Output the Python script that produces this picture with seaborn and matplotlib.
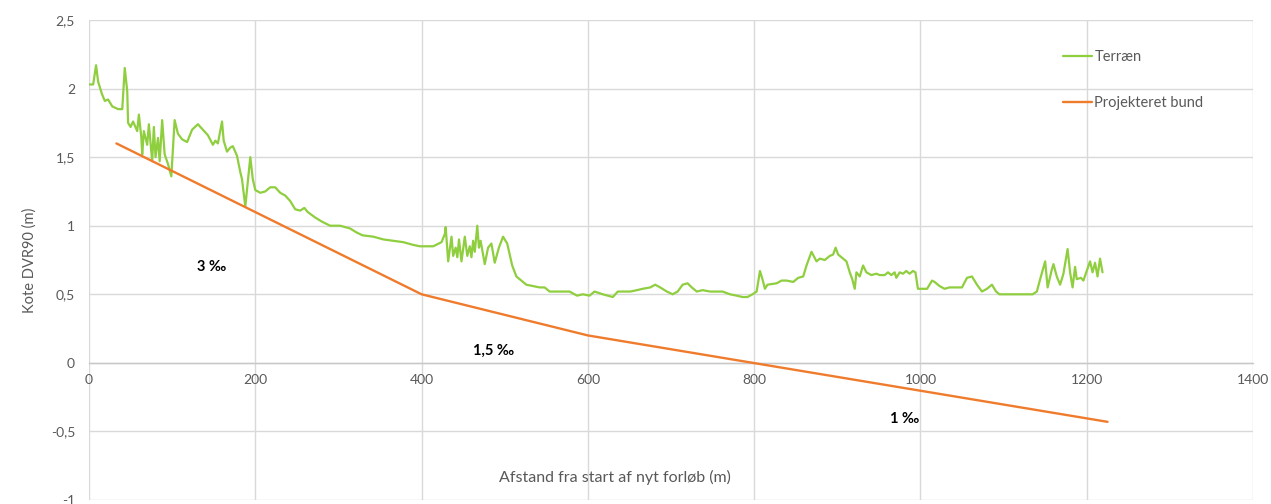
import matplotlib
matplotlib.use("Agg")
import matplotlib.pyplot as plt
from matplotlib.ticker import FuncFormatter, MultipleLocator
import seaborn as sns
import pandas as pd

# Terrain profile along the new course (distance m, level DVR90 m)
terrain_x = [0, 5, 8.5, 11, 15.6, 19, 23, 28, 35, 40, 43, 46, 47, 50, 53, 58, 60, 63, 64, 66,
             70, 72, 76, 78, 80, 83, 85, 88, 91, 95, 99, 103, 107, 112, 118, 124, 131, 137, 143, 149,
             152, 155, 160, 162, 166, 170, 173, 178, 182, 184, 188, 191, 194, 197, 200, 206, 212, 218, 224, 230,
             236, 242, 248, 254, 259, 263, 272, 280, 290, 302, 314, 322, 329, 342, 354, 366, 378, 390, 398, 414,
             424, 428, 429, 432, 436, 438, 441, 443, 445, 448, 452, 455, 458, 460, 462, 464, 467, 469, 471, 476,
             480, 484, 488, 493, 498, 503, 509, 514, 522, 526, 534, 542, 548, 554, 563, 570, 578, 587, 594, 602,
             608, 618, 624, 630, 636, 642, 651, 659, 666, 675, 681, 687, 695, 702, 708, 714, 720, 725, 731, 738,
             747, 755, 762, 771, 779, 786, 792, 798, 803, 807, 810, 813, 816, 827, 833, 839, 847, 853, 859, 863,
             869, 875, 879, 885, 891, 895, 898, 901, 905, 911, 915, 918, 921, 923, 927, 931, 935, 941, 947, 951,
             957, 961, 965, 969, 971, 975, 979, 983, 987, 991, 994, 997, 1001, 1008, 1014, 1017, 1023, 1029, 1035, 1044,
             1050, 1056, 1062, 1068, 1074, 1080, 1086, 1091, 1095, 1111, 1120, 1135, 1140, 1144, 1150, 1153, 1158, 1160, 1164, 1168,
             1172, 1177, 1180, 1183, 1186, 1188, 1193, 1196, 1200, 1204, 1207, 1210, 1213, 1216, 1219]
terrain_y = [2.03, 2.03, 2.17, 2.05, 1.96, 1.91, 1.92, 1.87, 1.85, 1.85, 2.15, 1.98, 1.75, 1.72, 1.76, 1.69, 1.81, 1.64, 1.52, 1.69,
             1.59, 1.74, 1.47, 1.72, 1.50, 1.64, 1.47, 1.77, 1.52, 1.45, 1.36, 1.77, 1.67, 1.63, 1.61, 1.70, 1.74, 1.70, 1.66, 1.59,
             1.62, 1.60, 1.76, 1.62, 1.54, 1.57, 1.58, 1.51, 1.39, 1.34, 1.14, 1.32, 1.50, 1.34, 1.26, 1.24, 1.25, 1.28, 1.28, 1.24,
             1.22, 1.18, 1.12, 1.11, 1.13, 1.10, 1.06, 1.03, 1.00, 1.00, 0.98, 0.95, 0.93, 0.92, 0.90, 0.89, 0.88, 0.86, 0.85, 0.85,
             0.88, 0.94, 0.99, 0.74, 0.92, 0.78, 0.84, 0.77, 0.90, 0.74, 0.92, 0.78, 0.85, 0.77, 0.89, 0.81, 1.00, 0.84, 0.89, 0.72,
             0.84, 0.87, 0.73, 0.84, 0.92, 0.87, 0.71, 0.63, 0.59, 0.57, 0.56, 0.55, 0.55, 0.52, 0.52, 0.52, 0.52, 0.49, 0.50, 0.49,
             0.52, 0.50, 0.49, 0.48, 0.52, 0.52, 0.52, 0.53, 0.54, 0.55, 0.57, 0.55, 0.52, 0.50, 0.52, 0.57, 0.58, 0.55, 0.52, 0.53,
             0.52, 0.52, 0.52, 0.50, 0.49, 0.48, 0.48, 0.50, 0.52, 0.67, 0.61, 0.54, 0.57, 0.58, 0.60, 0.60, 0.59, 0.62, 0.63, 0.71,
             0.81, 0.74, 0.76, 0.75, 0.78, 0.79, 0.84, 0.79, 0.77, 0.74, 0.66, 0.61, 0.54, 0.66, 0.63, 0.71, 0.66, 0.64, 0.65, 0.64,
             0.64, 0.66, 0.64, 0.66, 0.62, 0.66, 0.65, 0.67, 0.65, 0.67, 0.66, 0.54, 0.54, 0.54, 0.60, 0.59, 0.56, 0.54, 0.55, 0.55,
             0.55, 0.62, 0.63, 0.57, 0.52, 0.54, 0.57, 0.52, 0.50, 0.50, 0.50, 0.50, 0.52, 0.61, 0.74, 0.55, 0.68, 0.72, 0.63, 0.57,
             0.65, 0.83, 0.66, 0.55, 0.70, 0.61, 0.62, 0.60, 0.67, 0.74, 0.66, 0.73, 0.63, 0.76, 0.66]

# Designed channel bottom (break points)
bund_x = [33, 400, 600, 1225]
bund_y = [1.60, 0.50, 0.20, -0.43]

# Gradient labels: text, x, y
slope_labels = ["3 \u2030", "1,5 \u2030", "1 \u2030"]
slope_x = [148, 487, 981]
slope_y = [0.70, 0.09, -0.41]

x_ticks = [0, 200, 400, 600, 800, 1000, 1200, 1400]

GREEN = "#8fce3e"
ORANGE = "#ef7b2d"
GRID = "#d9d9d9"
TEXT = "#595959"

sns.set_theme(style="white")
plt.rcParams["font.family"] = ["Lato", "DejaVu Sans"]

fig = plt.figure(figsize=(12.71, 5.04), dpi=100)
ax = fig.add_axes([89 / 1271, 4 / 504, 1164 / 1271, 480 / 504])

terrain = pd.DataFrame({"x": terrain_x, "y": terrain_y})
bund = pd.DataFrame({"x": bund_x, "y": bund_y})

sns.lineplot(data=terrain, x="x", y="y", ax=ax, color=GREEN, lw=1.6,
             estimator=None, sort=False, label="Terr\u00e6n", zorder=3)
sns.lineplot(data=bund, x="x", y="y", ax=ax, color=ORANGE, lw=1.7,
             estimator=None, sort=False, label="Projekteret bund", zorder=3)

ax.set_xlim(0, 1400)
ax.set_ylim(-1, 2.5)
ax.set_xticks(x_ticks)
ax.yaxis.set_major_locator(MultipleLocator(0.5))
ax.yaxis.set_major_formatter(FuncFormatter(lambda v, p: f"{v:g}".replace(".", ",")))

ax.grid(True, color=GRID, lw=1.0, zorder=0)
for side in ["top", "right", "left"]:
    ax.spines[side].set_visible(False)
ax.spines["bottom"].set_position(("data", 0))
ax.spines["bottom"].set_color("#c8c8c8")
ax.spines["bottom"].set_linewidth(1.0)
ax.tick_params(axis="both", length=0, labelsize=10, colors=TEXT)
ax.tick_params(axis="x", pad=8)
ax.tick_params(axis="y", pad=10)

ax.set_xlabel("Afstand fra start af nyt forl\u00f8b (m)", fontsize=11.5, color=TEXT)
ax.xaxis.set_label_coords(0.452, 0.062)
ax.set_ylabel("Kote DVR90 (m)", fontsize=10.5, color=TEXT, labelpad=10)

for t, xv, yv in zip(slope_labels, slope_x, slope_y):
    ax.text(xv, yv, t, ha="center", va="center", fontsize=10.5, fontweight="bold", color="black")

leg = ax.legend(loc="upper left", bbox_to_anchor=(1063 / 1271, 1 - 50 / 504),
                bbox_transform=fig.transFigure, frameon=False, fontsize=10.5,
                handlelength=2.0, handletextpad=0.15, labelspacing=2.2,
                borderpad=0, borderaxespad=0)
for txt in leg.get_texts():
    txt.set_color(TEXT)

fig.savefig("out.png", dpi=100)
